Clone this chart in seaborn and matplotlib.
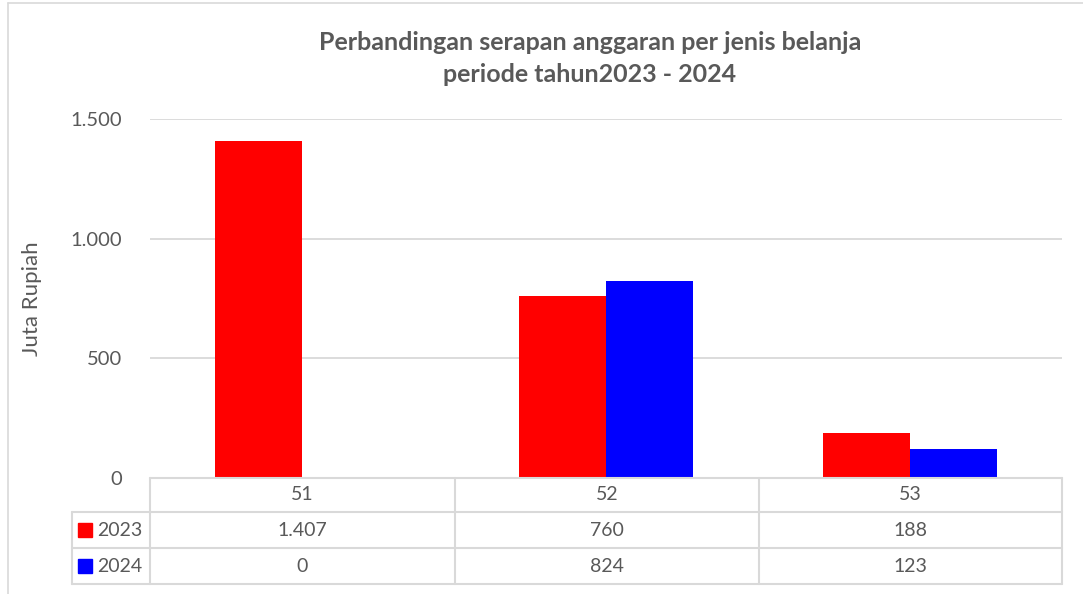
import matplotlib
matplotlib.use("Agg")
import matplotlib.pyplot as plt
import seaborn as sns
import pandas as pd
from matplotlib.lines import Line2D
from matplotlib.patches import Rectangle

jenis_belanja = ["51", "52", "53"]
tahun = ["2023", "2024"]
nilai_2023 = [1407, 760, 188]
nilai_2024 = [0, 824, 123]
warna = {"2023": "#ff0000", "2024": "#0000ff"}
y_ticks = [0, 500, 1000, 1500]

W, H = 1083, 594
GRID = "#d9d9d9"
TEXT = "#595959"


def fmt(v):
    return f"{v:,}".replace(",", ".")


def main():
    df = pd.DataFrame({
        "kode": jenis_belanja * 2,
        "tahun": [tahun[0]] * 3 + [tahun[1]] * 3,
        "nilai": nilai_2023 + nilai_2024,
    })

    sns.set_theme(style="white")
    plt.rcParams["font.family"] = ["Lato", "DejaVu Sans"]

    fig = plt.figure(figsize=(W / 100, H / 100), dpi=100)
    ax = fig.add_axes([150 / W, 1 - 478 / H, (1062 - 150) / W, (478 - 119) / H])

    sns.barplot(data=df, x="kode", y="nilai", hue="tahun", order=jenis_belanja,
                hue_order=tahun, palette=warna, width=0.575, saturation=1,
                edgecolor="none", linewidth=0, legend=False, ax=ax)

    ax.set_xlim(-0.5, len(jenis_belanja) - 0.5)
    ax.set_ylim(0, 1500)
    ax.set_yticks(y_ticks)
    ax.set_yticklabels([fmt(t) for t in y_ticks], color=TEXT, fontsize=14.5)
    ax.tick_params(axis="y", length=0, pad=20)
    ax.set_xticks([])
    ax.set_xlabel("")
    ax.set_ylabel("")
    ax.yaxis.grid(True, color=GRID, linewidth=1.3)
    ax.set_axisbelow(True)
    for s in ax.spines.values():
        s.set_visible(False)

    # title and axis label
    fig.text(590 / W, 1 - 42 / H, "Perbandingan serapan anggaran per jenis belanja",
             ha="center", va="center", fontsize=18, fontweight="bold", color=TEXT)
    fig.text(590 / W, 1 - 75 / H, "periode tahun2023 - 2024",
             ha="center", va="center", fontsize=18, fontweight="bold", color=TEXT)
    fig.text(32 / W, 1 - 299 / H, "Juta Rupiah", rotation=90, ha="center",
             va="center", fontsize=16, color=TEXT)

    # data table below the plot
    def fx(px):
        return px / W

    def fy(py):
        return 1 - py / H

    line_kw = dict(color=GRID, linewidth=1.5, transform=fig.transFigure)
    for py, x0 in [(478, 150), (512, 72), (548, 72), (584, 72)]:
        fig.add_artist(Line2D([fx(x0), fx(1062)], [fy(py), fy(py)], **line_kw))
    for px in [150, 455, 759, 1062]:
        fig.add_artist(Line2D([fx(px), fx(px)], [fy(478), fy(584)], **line_kw))
    fig.add_artist(Line2D([fx(72), fx(72)], [fy(512), fy(584)], **line_kw))

    col_centers = [302, 607, 910]
    for cx, kode in zip(col_centers, jenis_belanja):
        fig.text(fx(cx), fy(495), kode, ha="center", va="center",
                 fontsize=14, color=TEXT)

    rows = [(530, tahun[0], nilai_2023), (566, tahun[1], nilai_2024)]
    for py, th, vals in rows:
        fig.add_artist(Rectangle((fx(78), fy(py + 7)), 14 / W, 14 / H,
                                 color=warna[th], transform=fig.transFigure))
        fig.text(fx(97), fy(py), th, ha="left", va="center",
                 fontsize=14, color=TEXT)
        for cx, v in zip(col_centers, vals):
            fig.text(fx(cx), fy(py), fmt(v), ha="center", va="center",
                     fontsize=14, color=TEXT)

    # chart frame
    frame_kw = dict(color=GRID, linewidth=1.2, transform=fig.transFigure)
    fig.add_artist(Line2D([fx(8), fx(8)], [fy(3), 0], **frame_kw))
    fig.add_artist(Line2D([fx(8), 1], [fy(3), fy(3)], **frame_kw))

    fig.savefig("out.png", dpi=100)


if __name__ == "__main__":
    main()
